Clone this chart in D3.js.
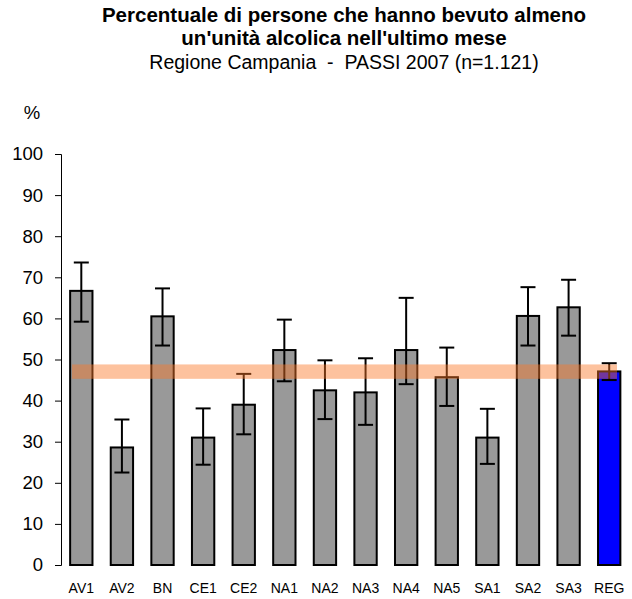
<!DOCTYPE html>
<html><head><meta charset="utf-8">
<script src="https://cdn.jsdelivr.net/npm/d3@7"></script>
<style>body{margin:0;background:#fff}svg{display:block}text{font-family:"Liberation Sans",Arial,sans-serif;white-space:pre}</style>
</head><body>
<script>
const categories = ["AV1","AV2","BN","CE1","CE2","NA1","NA2","NA3","NA4","NA5","SA1","SA2","SA3","REG"];
const values = [66.7,28.6,60.5,31.0,39.0,52.3,42.5,42.0,52.3,45.7,31.0,60.6,62.7,47.1];
const lower  = [59.2,22.5,53.4,24.4,31.8,44.7,35.5,34.1,44.0,38.7,24.6,53.4,55.8,45.0];
const upper  = [73.6,35.4,67.3,38.1,46.5,59.7,49.8,50.3,65.0,52.9,38.0,67.6,69.4,49.1];
const regionBand = [45.3,48.8];
const yTicks = [0,10,20,30,40,50,60,70,80,90,100];

const W=632,H=599;
const svg=d3.select("body").append("svg").attr("width",W).attr("height",H);
const x=d3.scaleBand().domain(categories).range([61,629.5]).paddingInner(0.45).paddingOuter(0.225);
const y=d3.scaleLinear().domain([0,100]).range([565,154]);

// title
const tcx=344;
svg.append("text").attr("x",tcx).attr("y",22).attr("text-anchor","middle").attr("font-size",20.5).attr("font-weight","bold").text("Percentuale di persone che hanno bevuto almeno");
svg.append("text").attr("x",tcx).attr("y",44.5).attr("text-anchor","middle").attr("font-size",20.5).attr("font-weight","bold").text("un'unità alcolica nell'ultimo mese");
svg.append("text").attr("x",tcx).attr("y",68.5).attr("text-anchor","middle").attr("font-size",19.5).text("Regione Campania  -  PASSI 2007 (n=1.121)");
svg.append("text").attr("x",32).attr("y",119).attr("text-anchor","middle").attr("font-size",18.5).text("%");

// y axis
const ya=svg.append("g").attr("transform","translate(61,0)").call(d3.axisLeft(y).tickValues(yTicks).tickSize(6).tickPadding(12));
ya.select(".domain").attr("stroke","#000").attr("stroke-width",1);
ya.selectAll(".tick line").attr("stroke","#000");
ya.selectAll("text").attr("font-size",18.5).attr("font-family","Liberation Sans, Arial, sans-serif").attr("fill","#000");

// x labels
const xa=svg.append("g").attr("transform","translate(0,565)").call(d3.axisBottom(x).tickSize(0).tickPadding(18));
xa.select(".domain").remove();
xa.selectAll("text").attr("font-size",14).attr("font-family","Liberation Sans, Arial, sans-serif").attr("fill","#000");

// bars
svg.append("g").selectAll("rect").data(categories).join("rect")
  .attr("x",d=>x(d)).attr("width",x.bandwidth())
  .attr("y",(d,i)=>y(values[i])).attr("height",(d,i)=>y(0)-y(values[i]))
  .attr("fill",d=>d==="REG"?"#0000ff":"#999999").attr("stroke","#000").attr("stroke-width",2);

// error bars
const eg=svg.append("g").attr("stroke","#000").attr("stroke-width",2);
categories.forEach((c,i)=>{
  const cx=x(c)+x.bandwidth()/2, cw=7.5;
  eg.append("line").attr("x1",cx).attr("x2",cx).attr("y1",y(lower[i])).attr("y2",y(upper[i]));
  eg.append("line").attr("x1",cx-cw).attr("x2",cx+cw).attr("y1",y(upper[i])).attr("y2",y(upper[i]));
  eg.append("line").attr("x1",cx-cw).attr("x2",cx+cw).attr("y1",y(lower[i])).attr("y2",y(lower[i]));
});

// regional band
svg.append("rect").attr("x",72).attr("width",617-72)
  .attr("y",y(regionBand[1])).attr("height",y(regionBand[0])-y(regionBand[1]))
  .attr("fill","rgb(250,120,40)").attr("opacity",0.45);
</script>
</body></html>
